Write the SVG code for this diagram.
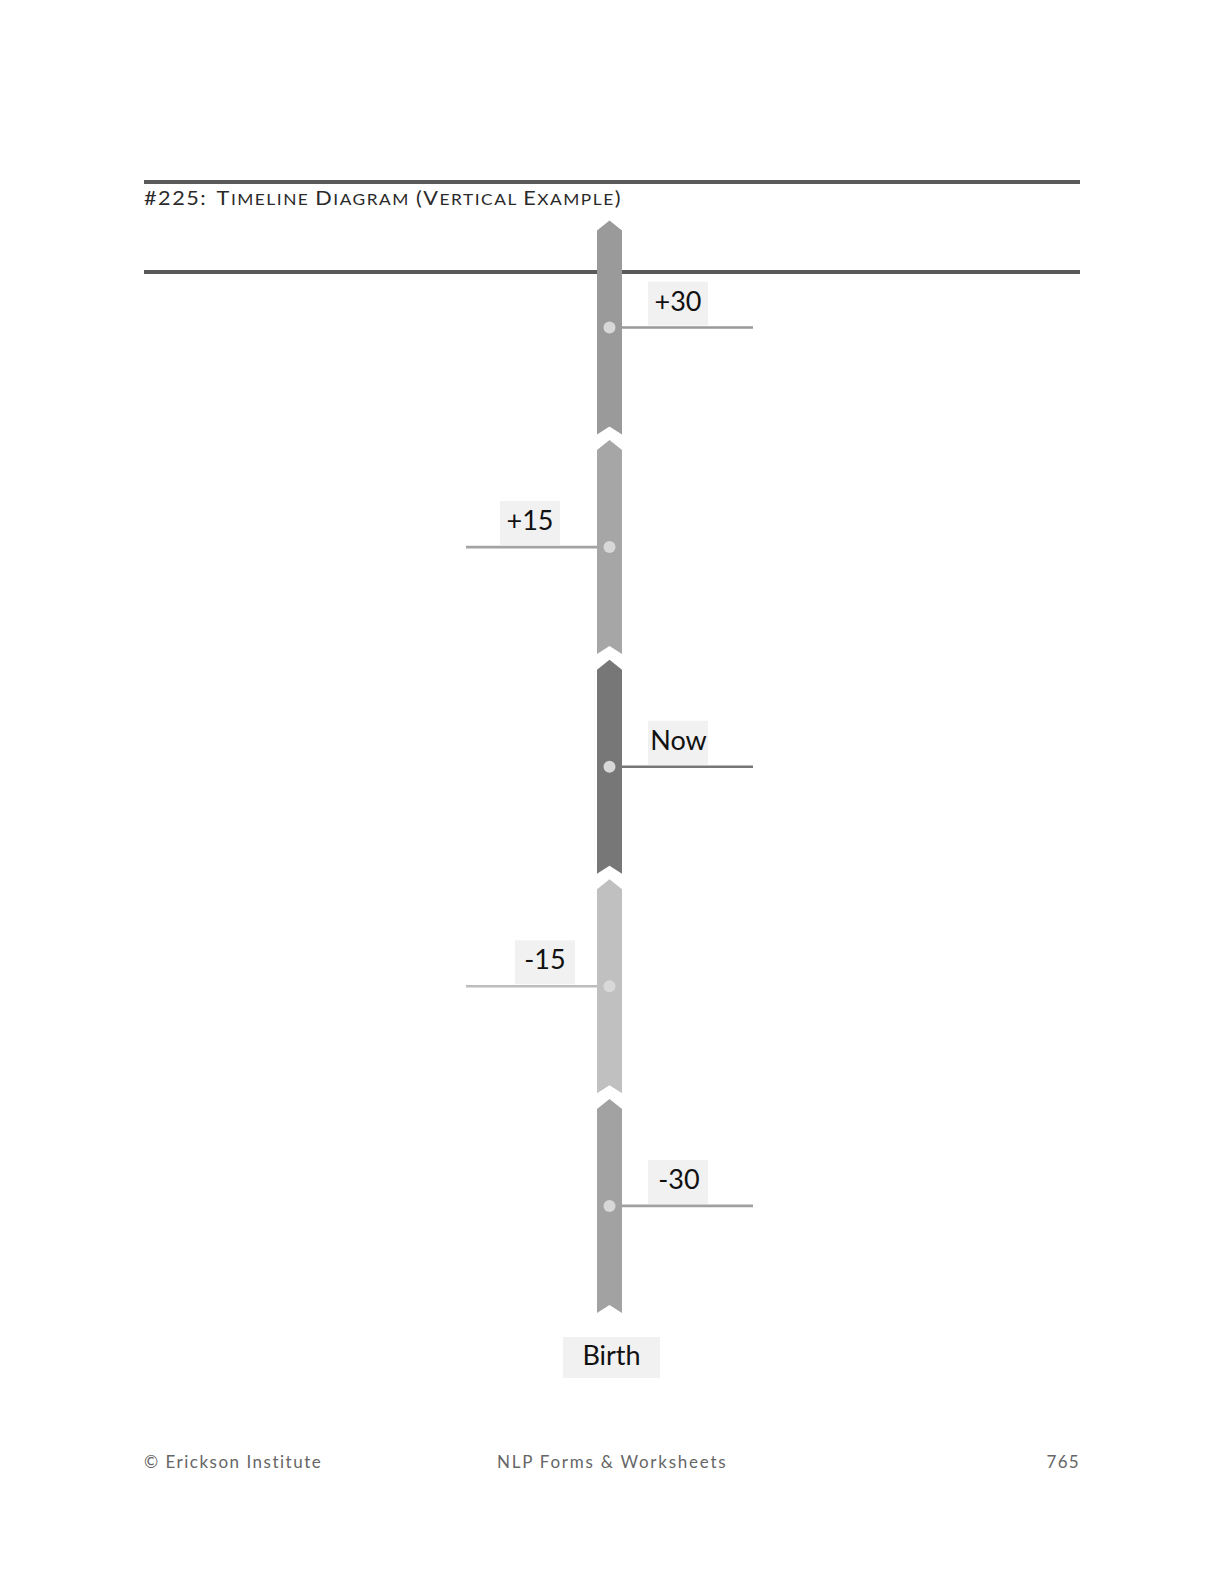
<svg xmlns="http://www.w3.org/2000/svg" width="1224" height="1584" viewBox="0 0 1224 1584">
<style>
.rule{stroke:#5a5a5a;stroke-width:4;fill:none}
.title{font-family:Lato,"Liberation Sans",sans-serif;font-size:18.5px;fill:#2a2a2a;letter-spacing:1.3px}
.sc{font-size:14.8px}
.foot{font-family:Lato,"Liberation Sans",sans-serif;font-size:17px;fill:#666;letter-spacing:1.3px}
.box{fill:#f1f1f1}
.lbl{font-family:Lato,"Liberation Sans",sans-serif;font-size:27px;fill:#111;text-anchor:middle}
.dot{fill:#d8d8d8}
.ln{stroke-width:2.6;fill:none}
</style>
<rect width="1224" height="1584" fill="#fff"/>
<line class="rule" x1="144" y1="182" x2="1080" y2="182"/>
<text class="title" x="144" y="204.5" textLength="478" lengthAdjust="spacingAndGlyphs">#225:<tspan dx="9">T</tspan><tspan class="sc">IMELINE </tspan>D<tspan class="sc">IAGRAM </tspan>(V<tspan class="sc">ERTICAL </tspan>E<tspan class="sc">XAMPLE</tspan>)</text>
<line class="rule" x1="144" y1="272" x2="1080" y2="272"/>

<g id="connectors">
<line class="ln" stroke="#999" x1="622" y1="327.5" x2="753" y2="327.5"/>
<line class="ln" stroke="#a3a3a3" x1="466" y1="547.1" x2="597" y2="547.1"/>
<line class="ln" stroke="#777" x1="622" y1="766.7" x2="753" y2="766.7"/>
<line class="ln" stroke="#bdbdbd" x1="466" y1="986.3" x2="597" y2="986.3"/>
<line class="ln" stroke="#a0a0a0" x1="622" y1="1205.9" x2="753" y2="1205.9"/>
</g>

<g id="seg-plus30">
<path fill="#9a9a9a" d="M597,230.5 L609.5,220.5 L622,230.5 L622,434.5 L609.5,426.5 L597,434.5 Z"/>
<circle class="dot" cx="609.5" cy="327.5" r="6"/>
<rect class="box" x="648" y="281.5" width="60" height="44"/>
<text class="lbl" x="678" y="310.5">+30</text>
</g>

<g id="seg-plus15">
<path fill="#a6a6a6" d="M597,450.1 L609.5,440.1 L622,450.1 L622,654.1 L609.5,646.1 L597,654.1 Z"/>
<circle class="dot" cx="609.5" cy="547.1" r="6"/>
<rect class="box" x="500" y="501.1" width="60" height="44"/>
<text class="lbl" x="530" y="530.1">+15</text>
</g>

<g id="seg-now">
<path fill="#777" d="M597,669.7 L609.5,659.7 L622,669.7 L622,873.7 L609.5,865.7 L597,873.7 Z"/>
<circle class="dot" cx="609.5" cy="766.7" r="6"/>
<rect class="box" x="648" y="720.7" width="60" height="44"/>
<text class="lbl" x="678.5" y="749.7">Now</text>
</g>

<g id="seg-minus15">
<path fill="#c0c0c0" d="M597,889.3 L609.5,879.3 L622,889.3 L622,1093.3 L609.5,1085.3 L597,1093.3 Z"/>
<circle class="dot" cx="609.5" cy="986.3" r="6"/>
<rect class="box" x="515" y="940.3" width="60" height="44"/>
<text class="lbl" x="545" y="969.3">-15</text>
</g>

<g id="seg-minus30">
<path fill="#a2a2a2" d="M597,1108.9 L609.5,1098.9 L622,1108.9 L622,1312.9 L609.5,1304.9 L597,1312.9 Z"/>
<circle class="dot" cx="609.5" cy="1205.9" r="6"/>
<rect class="box" x="648" y="1159.9" width="60" height="44"/>
<text class="lbl" x="679" y="1188.9">-30</text>
</g>

<g id="birth">
<rect class="box" x="563" y="1337" width="97" height="41"/>
<text class="lbl" x="611.5" y="1365">Birth</text>
</g>

<text class="foot" x="144" y="1468" textLength="178">© Erickson Institute</text>
<text class="foot" x="612" y="1468" text-anchor="middle" textLength="230">NLP Forms &amp; Worksheets</text>
<text class="foot" x="1080" y="1468" text-anchor="end">765</text>
</svg>
